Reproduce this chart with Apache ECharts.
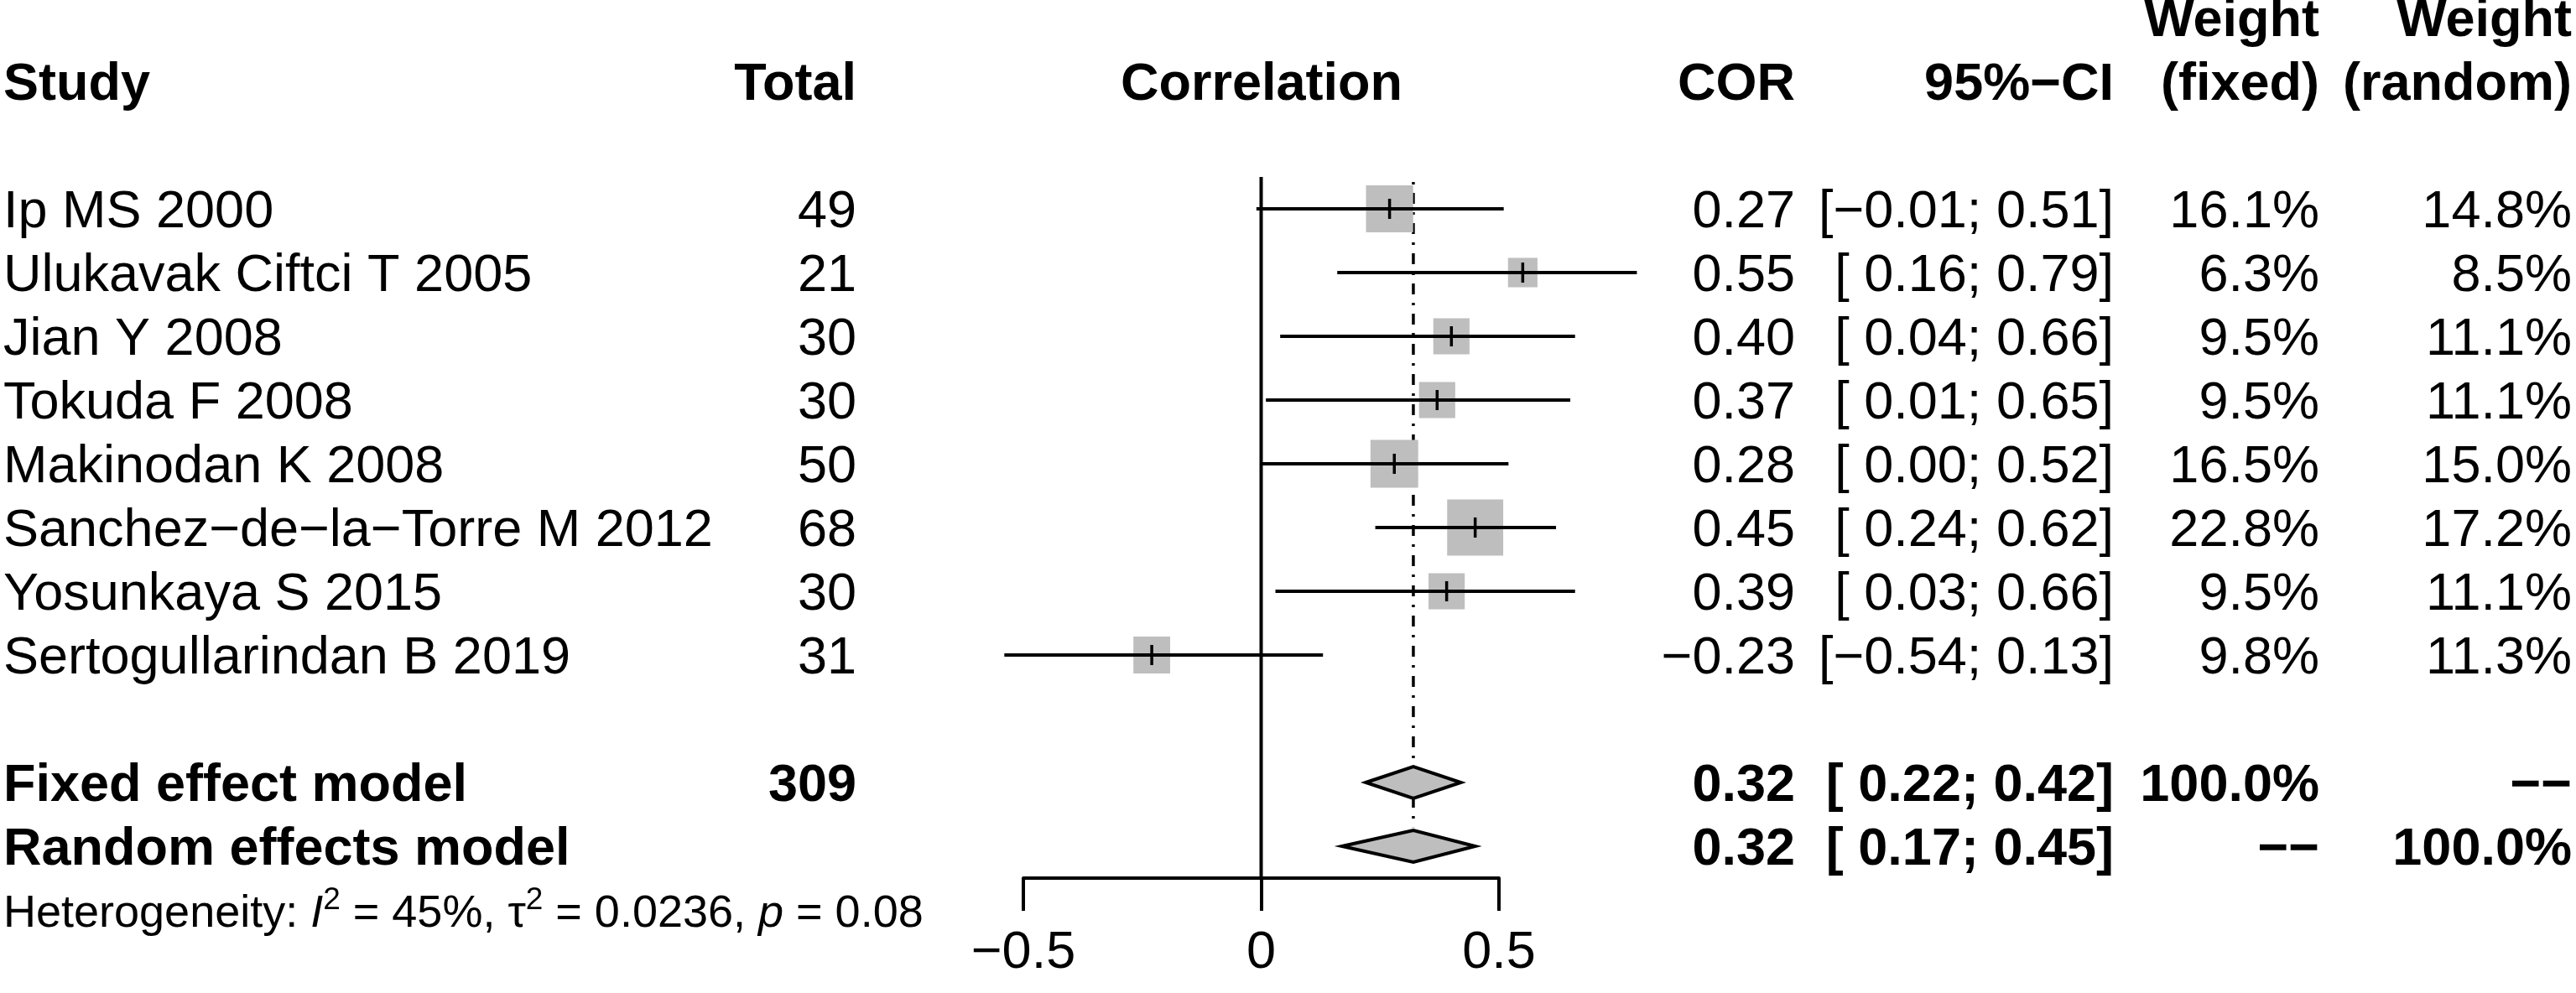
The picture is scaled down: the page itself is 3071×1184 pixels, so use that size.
<!DOCTYPE html>
<html>
<head>
<meta charset="utf-8">
<script src="https://cdn.jsdelivr.net/npm/echarts@6/dist/echarts.min.js"></script>
<style>
html, body { margin: 0; padding: 0; background: #fff; }
#chart { width: 3071px; height: 1184px; }
</style>
</head>
<body>
<div id="chart"></div>
<script>
// study data
var studies = ['Ip MS 2000', 'Ulukavak Ciftci T 2005', 'Jian Y 2008', 'Tokuda F 2008',
  'Makinodan K 2008', 'Sanchez\u2212de\u2212la\u2212Torre M 2012', 'Yosunkaya S 2015', 'Sertogullarindan B 2019'];
var totals = [49, 21, 30, 30, 50, 68, 30, 31];
var cor = [0.27, 0.55, 0.40, 0.37, 0.28, 0.45, 0.39, -0.23];
var lower = [-0.01, 0.16, 0.04, 0.01, 0.00, 0.24, 0.03, -0.54];
var upper = [0.51, 0.79, 0.66, 0.65, 0.52, 0.62, 0.66, 0.13];
var wFixed = [16.1, 6.3, 9.5, 9.5, 16.5, 22.8, 9.5, 9.8];
var wRandom = [14.8, 8.5, 11.1, 11.1, 15.0, 17.2, 11.1, 11.3];

// pooled estimates
var fixedTotal = 309;
var fixedEst = 0.32, fixedLower = 0.22, fixedUpper = 0.42;
var randomEst = 0.32, randomLower = 0.17, randomUpper = 0.45;
var hetI2 = 45, hetTau2 = 0.0236, hetP = 0.08;

var xTicks = [-0.5, 0, 0.5];

// layout
var FONT = '"Liberation Sans", Arial, Helvetica, sans-serif';
var FS = 63;
var TEXT_DY = 5;
var LW = 4;
var ROW_FIXED = 9, ROW_RANDOM = 10, ROW_HET = 11;
var COL = { study: 4, total: 1021, corr: 1504, cor: 2140, ci: 2520, wf: 2765, wr: 3066 };
var BOX_K = 14;        // square side = BOX_K * sqrt(weight)
var GREY = '#BEBEBE';
var DASH2 = '\u2212\u2212';

function num(v, d) {
  var s = Math.abs(v).toFixed(d);
  return v < 0 ? '\u2212' + s : s;
}
function ciText(l, u) {
  return '[' + (l < 0 ? '' : ' ') + num(l, 2) + '; ' + num(u, 2) + ']';
}
function cell(x, text, align, bold) {
  return { x: x, text: text, align: align, bold: !!bold };
}

// text table rows
var tableRows = [];
tableRows.push({ row: -3, cells: [
  cell(COL.wf, 'Weight', 'right', true), cell(COL.wr, 'Weight', 'right', true)] });
tableRows.push({ row: -2, cells: [
  cell(COL.study, 'Study', 'left', true), cell(COL.total, 'Total', 'right', true),
  cell(COL.corr, 'Correlation', 'center', true), cell(COL.cor, 'COR', 'right', true),
  cell(COL.ci, '95%\u2212CI', 'right', true), cell(COL.wf, '(fixed)', 'right', true),
  cell(COL.wr, '(random)', 'right', true)] });
for (var i = 0; i < studies.length; i++) {
  tableRows.push({ row: i, cells: [
    cell(COL.study, studies[i], 'left'), cell(COL.total, String(totals[i]), 'right'),
    cell(COL.cor, num(cor[i], 2), 'right'), cell(COL.ci, ciText(lower[i], upper[i]), 'right'),
    cell(COL.wf, wFixed[i].toFixed(1) + '%', 'right'), cell(COL.wr, wRandom[i].toFixed(1) + '%', 'right')] });
}
tableRows.push({ row: ROW_FIXED, cells: [
  cell(COL.study, 'Fixed effect model', 'left', true), cell(COL.total, String(fixedTotal), 'right', true),
  cell(COL.cor, num(fixedEst, 2), 'right', true), cell(COL.ci, ciText(fixedLower, fixedUpper), 'right', true),
  cell(COL.wf, '100.0%', 'right', true), cell(COL.wr, DASH2, 'right', true)] });
tableRows.push({ row: ROW_RANDOM, cells: [
  cell(COL.study, 'Random effects model', 'left', true),
  cell(COL.cor, num(randomEst, 2), 'right', true), cell(COL.ci, ciText(randomLower, randomUpper), 'right', true),
  cell(COL.wf, DASH2, 'right', true), cell(COL.wr, '100.0%', 'right', true)] });

var studyData = [];
for (var j = 0; j < studies.length; j++) {
  studyData.push([cor[j], j, lower[j], upper[j], wFixed[j]]);
}
var pooledData = [
  [fixedEst, ROW_FIXED, fixedLower, fixedUpper],
  [randomEst, ROW_RANDOM, randomLower, randomUpper]
];

var chart = echarts.init(document.getElementById('chart'), null, { renderer: 'canvas' });

var option = {
  backgroundColor: '#fff',
  animation: false,
  grid: { left: 1220, right: 1284, top: 211, bottom: 137, containLabel: false },
  xAxis: {
    type: 'value', min: xTicks[0], max: xTicks[xTicks.length - 1], interval: 0.5,
    splitLine: { show: false },
    axisLine: { show: true, onZero: false, lineStyle: { color: '#000', width: LW } },
    axisTick: { show: true, length: 39, lineStyle: { color: '#000', width: LW } },
    axisLabel: {
      show: true, margin: 58, color: '#000', fontSize: FS, fontFamily: FONT,
      formatter: function (v) { return v === 0 ? '0' : num(v, 1); }
    }
  },
  yAxis: { type: 'value', min: -0.5, max: 10.5, inverse: true, show: false },
  series: [
    {
      // reference line at 0 and dotted fixed-effect line
      type: 'custom', silent: true, z: 1,
      data: [[0, 0]],
      renderItem: function (params, api) {
        var z0 = api.coord([0, -0.5]), z1 = api.coord([0, 10.5]);
        var f0 = api.coord([fixedEst, -0.42]), f1 = api.coord([fixedEst, ROW_RANDOM - 0.3]);
        return { type: 'group', children: [
          { type: 'line', shape: { x1: z0[0], y1: z0[1], x2: z1[0], y2: z1[1] },
            style: { stroke: '#000', lineWidth: LW } },
          { type: 'line', shape: { x1: f0[0], y1: f0[1], x2: f1[0], y2: f1[1] },
            style: { stroke: '#000', lineWidth: 3.5, lineDash: [3, 10, 13, 10] } }
        ] };
      }
    },
    {
      // study squares + CI lines
      type: 'custom', silent: true, z: 2,
      data: studyData,
      renderItem: function (params, api) {
        var c = api.coord([api.value(0), api.value(1)]);
        var lo = api.coord([api.value(2), api.value(1)]);
        var hi = api.coord([api.value(3), api.value(1)]);
        var side = BOX_K * Math.sqrt(api.value(4));
        return { type: 'group', children: [
          { type: 'rect', shape: { x: c[0] - side / 2, y: c[1] - side / 2, width: side, height: side },
            style: { fill: GREY } },
          { type: 'line', shape: { x1: lo[0], y1: c[1], x2: hi[0], y2: c[1] },
            style: { stroke: '#000', lineWidth: LW } },
          { type: 'line', shape: { x1: c[0], y1: c[1] - 12, x2: c[0], y2: c[1] + 12 },
            style: { stroke: '#000', lineWidth: 3.5 } }
        ] };
      }
    },
    {
      // pooled diamonds
      type: 'custom', silent: true, z: 3,
      data: pooledData,
      renderItem: function (params, api) {
        var r = api.value(1);
        var pts = [
          api.coord([api.value(2), r]), api.coord([api.value(0), r - 0.25]),
          api.coord([api.value(3), r]), api.coord([api.value(0), r + 0.25])
        ];
        return { type: 'polygon', shape: { points: pts },
          style: { fill: GREY, stroke: '#000', lineWidth: LW, lineJoin: 'miter' } };
      }
    },
    {
      // text columns
      type: 'custom', silent: true, z: 4,
      data: tableRows.map(function (r) { return [0, r.row]; }),
      renderItem: function (params, api) {
        var r = tableRows[params.dataIndex];
        var y = api.coord([0, r.row])[1] + TEXT_DY;
        return { type: 'group', children: r.cells.map(function (c) {
          return { type: 'text', x: c.x, y: y, style: {
            text: c.text, align: c.align, verticalAlign: 'middle',
            fontSize: FS, fontFamily: FONT, fontWeight: c.bold ? 'bold' : 'normal', fill: '#000' } };
        }) };
      }
    },
    {
      // heterogeneity line
      type: 'custom', silent: true, z: 4,
      data: [[0, ROW_HET]],
      renderItem: function (params, api) {
        var y = api.coord([0, ROW_HET])[1] + TEXT_DY;
        var txt = '{n|Heterogeneity: }{i|I}{s|2}{n| = ' + hetI2 + '%, }{n|\u03c4}{s|2}{n| = ' +
          hetTau2.toFixed(4) + ', }{i|p}{n| = ' + hetP.toFixed(2) + '}';
        return { type: 'text', x: COL.study, y: y, style: {
          text: txt, align: 'left', verticalAlign: 'middle', fill: '#000',
          rich: {
            n: { fontSize: 54, fontFamily: FONT, lineHeight: 70, fill: '#000' },
            i: { fontSize: 54, fontFamily: FONT, fontStyle: 'italic', lineHeight: 70, fill: '#000' },
            s: { fontSize: 37, fontFamily: FONT, verticalAlign: 'top', lineHeight: 37, fill: '#000' }
          } } };
      }
    }
  ]
};

chart.setOption(option);
</script>
</body>
</html>
